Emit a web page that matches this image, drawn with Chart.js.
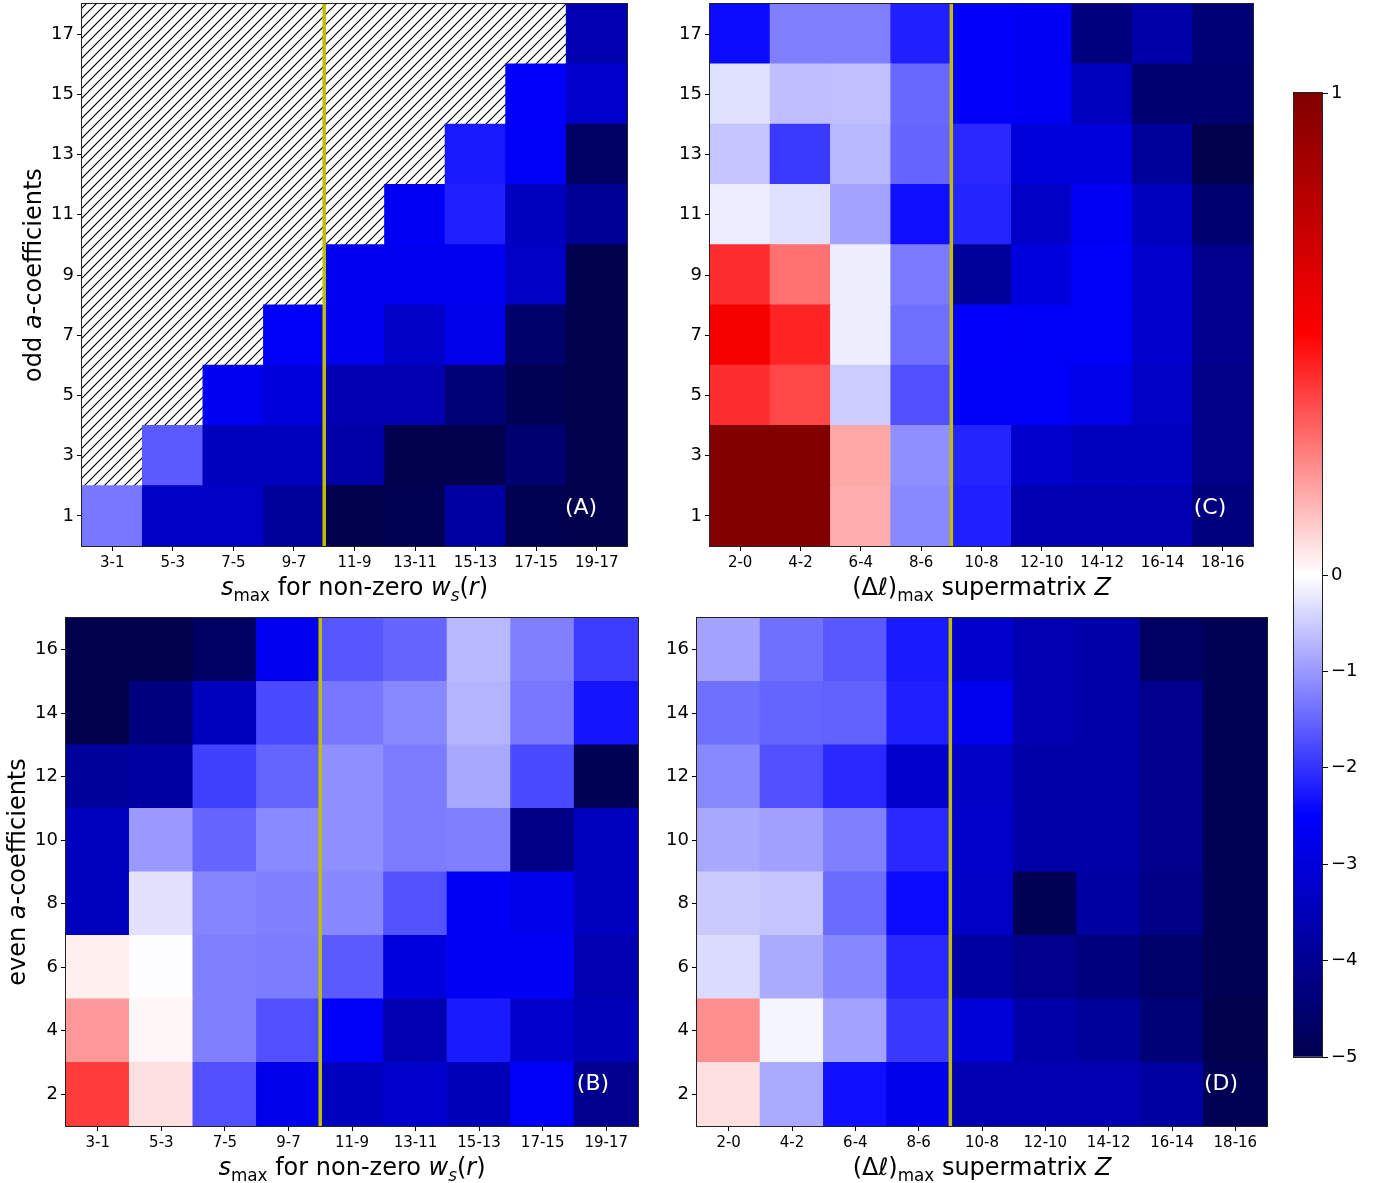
<!DOCTYPE html>
<html>
<head>
<meta charset="utf-8">
<script src="https://cdn.jsdelivr.net/npm/chart.js@4.4.0/dist/chart.umd.min.js"></script>
<style>
    body { margin: 0; background: #fff; }
    #wrap { position: relative; width: 1392px; height: 1183px; overflow: hidden; }
    #wrap canvas { position: absolute; left: 0; top: 0; }
</style>
</head>
<body>
<div id="wrap">
    <canvas id="chartA" width="1392" height="1183"></canvas>
    <canvas id="chartC" width="1392" height="1183"></canvas>
    <canvas id="chartB" width="1392" height="1183"></canvas>
    <canvas id="chartD" width="1392" height="1183"></canvas>
    <canvas id="chartBar" width="1392" height="1183"></canvas>
</div>
<script>
const sLabels = ['3-1', '5-3', '7-5', '9-7', '11-9', '13-11', '15-13', '17-15', '19-17'];
const lLabels = ['2-0', '4-2', '6-4', '8-6', '10-8', '12-10', '14-12', '16-14', '18-16'];
const oddRows = [1, 3, 5, 7, 9, 11, 13, 15, 17];
const evenRows = [2, 4, 6, 8, 10, 12, 14, 16];
const barTicks = [1, 0, -1, -2, -3, -4, -5];

// one array per row (bottom row first), one value per column; null = no coefficient
const valuesA = [
    [-1.33, -3.3, -3.3, -3.9, -5.0, -4.95, -3.8, -4.95, -5.0],
    [null, -1.62, -3.4, -3.4, -3.7, -5.0, -5.0, -4.5, -5.0],
    [null, null, -2.7, -3.0, -3.6, -3.6, -4.4, -4.9, -5.0],
    [null, null, null, -2.6, -2.7, -3.3, -2.8, -4.6, -5.0],
    [null, null, null, null, -2.7, -2.7, -2.7, -3.3, -5.0],
    [null, null, null, null, null, -2.65, -2.2, -3.4, -3.95],
    [null, null, null, null, null, null, -2.25, -2.6, -4.7],
    [null, null, null, null, null, null, null, -2.55, -3.2],
    [null, null, null, null, null, null, null, null, -3.6]
];
const valuesC = [
    [1.0, 1.0, 0.16, -1.17, -2.2, -3.6, -3.6, -3.6, -4.3],
    [1.0, 1.0, 0.17, -1.1, -2.15, -3.2, -3.4, -3.4, -4.15],
    [0.41, 0.36, -0.5, -1.72, -2.6, -2.6, -2.8, -3.3, -4.15],
    [0.53, 0.43, -0.17, -1.4, -2.55, -2.6, -2.6, -3.2, -4.1],
    [0.41, 0.28, -0.17, -1.3, -3.9, -2.95, -2.6, -3.2, -4.1],
    [-0.18, -0.3, -0.9, -2.35, -2.15, -3.3, -2.65, -3.4, -4.5],
    [-0.58, -1.93, -0.7, -1.5, -2.1, -3.0, -3.0, -3.9, -5.0],
    [-0.3, -0.63, -0.62, -1.48, -2.55, -2.65, -3.4, -4.5, -4.5],
    [-2.4, -1.25, -1.25, -2.2, -2.55, -2.65, -4.3, -3.7, -4.45]
];
const valuesB = [
    [0.38, 0.06, -1.72, -2.8, -3.4, -3.2, -3.5, -2.6, -4.1],
    [0.2, 0.015, -1.25, -1.72, -2.6, -3.6, -2.25, -3.2, -3.5],
    [0.03, -0.02, -1.25, -1.28, -1.62, -2.95, -2.65, -2.65, -3.6],
    [-3.4, -0.28, -1.2, -1.25, -1.18, -1.7, -2.65, -2.8, -3.4],
    [-3.4, -1.0, -1.5, -1.15, -1.1, -1.28, -1.25, -4.2, -3.4],
    [-3.9, -3.8, -1.87, -1.52, -1.1, -1.28, -0.85, -1.78, -4.9],
    [-5.0, -4.3, -3.4, -1.78, -1.33, -1.17, -0.75, -1.32, -2.3],
    [-5.0, -5.0, -4.7, -2.7, -1.65, -1.5, -0.7, -1.25, -1.9]
];
const valuesD = [
    [0.06, -0.83, -2.35, -2.8, -3.6, -3.6, -3.6, -3.8, -4.9],
    [0.22, -0.1, -0.9, -1.95, -3.05, -3.7, -3.9, -4.4, -5.0],
    [-0.35, -0.83, -1.18, -2.1, -3.8, -4.1, -4.3, -4.6, -4.9],
    [-0.52, -0.58, -1.45, -2.4, -3.3, -4.9, -3.8, -4.2, -4.9],
    [-0.85, -0.93, -1.25, -2.1, -3.25, -3.7, -3.7, -4.1, -4.9],
    [-1.17, -1.72, -2.1, -3.2, -3.3, -3.7, -3.7, -4.1, -4.9],
    [-1.4, -1.52, -1.55, -2.2, -2.75, -3.6, -3.7, -4.1, -4.9],
    [-0.9, -1.4, -1.63, -2.25, -3.2, -3.6, -3.7, -4.7, -4.9]
];

const W = 1392, H = 1183;
const FONT = '"DejaVu Sans", sans-serif';
Chart.defaults.font.family = FONT;
Chart.defaults.color = '#000';

// seismic colormap with two-slope norm: -5 .. 0 .. 1
const seismicStops = [[0, 0, 0.3], [0, 0, 1], [1, 1, 1], [1, 0, 0], [0.5, 0, 0]];
function norm(v) {
    const n = v <= 0 ? 0.5 * (v + 5) / 5 : 0.5 + 0.5 * v;
    return Math.min(1, Math.max(0, n));
}
function seismic(v) {
    const f = norm(v) * 4;
    const i = Math.min(3, Math.floor(f));
    const t = f - i;
    const c = seismicStops[i].map((a, k) => Math.round(255 * (a + (seismicStops[i + 1][k] - a) * t)));
    return `rgb(${c[0]},${c[1]},${c[2]})`;
}

function hatchPattern(ctx) {
    const p = document.createElement('canvas');
    p.width = 10; p.height = 10;
    const g = p.getContext('2d');
    g.fillStyle = '#fff';
    g.fillRect(0, 0, 10, 10);
    g.strokeStyle = '#000';
    g.lineWidth = 1.2;
    g.beginPath();
    g.moveTo(-5, 5); g.lineTo(5, -5);
    g.moveTo(0, 10); g.lineTo(10, 0);
    g.moveTo(5, 15); g.lineTo(15, 5);
    g.stroke();
    return ctx.createPattern(p, 'repeat');
}

// text with italic / subscript pieces: style n, i, s (sub), si (sub italic)
function drawRich(ctx, parts, x, y, size, rotate) {
    const fontFor = st => (st.includes('i') ? 'italic ' : '') + (st.includes('s') ? size * 0.7 : size) + 'px ' + FONT;
    ctx.save();
    ctx.translate(x, y);
    if (rotate) ctx.rotate(-Math.PI / 2);
    let total = 0;
    parts.forEach(p => { ctx.font = fontFor(p[1]); total += ctx.measureText(p[0]).width; });
    let cx = -total / 2;
    ctx.textAlign = 'left';
    ctx.textBaseline = 'alphabetic';
    ctx.fillStyle = '#000';
    parts.forEach(p => {
        ctx.font = fontFor(p[1]);
        ctx.fillText(p[0], cx, p[1].includes('s') ? size * 0.24 : 0);
        cx += ctx.measureText(p[0]).width;
    });
    ctx.restore();
}

const sTitle = [['s', 'i'], ['max', 's'], [' for non-zero ', 'n'], ['w', 'i'], ['s', 'si'], ['(', 'n'], ['r', 'i'], [')', 'n']];
const lTitle = [['(\u0394', 'n'], ['\u2113', 'i'], [')', 'n'], ['max', 's'], [' supermatrix ', 'n'], ['Z', 'i']];

function makePanel(id, p) {
    const yAxisW = 50, xAxisH = 30;
    const datasets = p.rows.map((r, i) => ({
        data: p.values[i].map(v => v === null ? null : [r - 1, r + 1]),
        backgroundColor: p.values[i].map(v => v === null ? 'rgba(0,0,0,0)' : seismic(v)),
        borderWidth: 0,
        inflateAmount: 0.6,
        barPercentage: 1,
        categoryPercentage: 1
    }));

    const panelPlugin = {
        id: 'panel' + id,
        beforeDatasetsDraw(chart) {
            const a = chart.chartArea, ctx = chart.ctx;
            if (p.hatch) {
                ctx.save();
                ctx.fillStyle = hatchPattern(ctx);
                ctx.fillRect(a.left, a.top, a.width, a.height);
                ctx.restore();
            }
        },
        afterDatasetsDraw(chart) {
            const a = chart.chartArea, ctx = chart.ctx, x = chart.scales.x;
            const xm = (x.getPixelForValue(3) + x.getPixelForValue(4)) / 2;
            ctx.save();
            ctx.strokeStyle = '#bfbf00';
            ctx.lineWidth = 3.5;
            ctx.beginPath();
            ctx.moveTo(xm, a.top);
            ctx.lineTo(xm, a.bottom);
            ctx.stroke();
            ctx.restore();
        },
        afterDraw(chart) {
            const a = chart.chartArea, ctx = chart.ctx;
            ctx.save();
            ctx.strokeStyle = '#222';
            ctx.lineWidth = 1;
            ctx.strokeRect(a.left - 0.5, a.top - 0.5, a.width + 1, a.height + 1);
            ctx.fillStyle = '#fff';
            ctx.font = '22px ' + FONT;
            ctx.textAlign = 'center';
            ctx.textBaseline = 'middle';
            ctx.fillText(p.tag, a.right - p.tagDx, a.bottom - p.tagDy);
            ctx.restore();
            drawRich(ctx, p.xTitle, (a.left + a.right) / 2, a.bottom + 49, 24, false);
            if (p.yTitle) drawRich(ctx, p.yTitle, p.yTitleX, (a.top + a.bottom) / 2, 24, true);
        }
    };

    return new Chart(document.getElementById(id), {
        type: 'bar',
        data: { labels: p.labels, datasets: datasets },
        options: {
            responsive: false,
            animation: false,
            layout: {
                padding: {
                    left: p.box[0] - yAxisW,
                    top: p.box[1],
                    right: W - p.box[2],
                    bottom: H - p.box[3] - xAxisH
                }
            },
            plugins: { legend: { display: false }, tooltip: { enabled: false } },
            scales: {
                x: {
                    type: 'category',
                    stacked: true,
                    offset: true,
                    grid: { offset: false, drawOnChartArea: false, drawTicks: true, tickLength: 5, tickColor: '#000' },
                    border: { display: false },
                    ticks: { color: '#000', font: { size: 15 }, padding: 3, maxRotation: 0, autoSkip: false },
                    afterFit(s) { s.height = xAxisH; s.paddingLeft = 0; s.paddingRight = 0; }
                },
                y: {
                    type: 'linear',
                    stacked: false,
                    min: p.rows[0] - 1,
                    max: p.rows[p.rows.length - 1] + 1,
                    afterBuildTicks(s) { s.ticks = p.rows.map(v => ({ value: v })); },
                    grid: { drawOnChartArea: false, drawTicks: true, tickLength: 5, tickColor: '#000' },
                    border: { display: false },
                    ticks: { color: '#000', font: { size: 18 }, padding: 3 },
                    afterFit(s) { s.width = yAxisW; s.paddingTop = 0; s.paddingBottom = 0; }
                }
            }
        },
        plugins: [panelPlugin]
    });
}

makePanel('chartA', {
    box: [82, 4, 627, 546], labels: sLabels, rows: oddRows, values: valuesA, hatch: true,
    tag: '(A)', tagDx: 46, tagDy: 38, xTitle: sTitle,
    yTitle: [['odd ', 'n'], ['a', 'i'], ['-coefficients', 'n']], yTitleX: 41
});
makePanel('chartC', {
    box: [710, 4, 1253, 546], labels: lLabels, rows: oddRows, values: valuesC,
    tag: '(C)', tagDx: 43, tagDy: 38, xTitle: lTitle
});
makePanel('chartB', {
    box: [66, 618, 638, 1126], labels: sLabels, rows: evenRows, values: valuesB,
    tag: '(B)', tagDx: 45, tagDy: 42, xTitle: sTitle,
    yTitle: [['even ', 'n'], ['a', 'i'], ['-coefficients', 'n']], yTitleX: 25
});
makePanel('chartD', {
    box: [697, 618, 1267, 1126], labels: lLabels, rows: evenRows, values: valuesD,
    tag: '(D)', tagDx: 46, tagDy: 42, xTitle: lTitle
});

// colour bar
const cbBox = [1294, 93, 1322, 1057];
new Chart(document.getElementById('chartBar'), {
    type: 'bar',
    data: {
        labels: ['scale'],
        datasets: [{
            data: [[norm(-5), norm(1)]],
            borderWidth: 0,
            barPercentage: 1,
            categoryPercentage: 1,
            backgroundColor(c) {
                const a = c.chart.chartArea;
                if (!a) return '#00f';
                const g = c.chart.ctx.createLinearGradient(0, a.bottom, 0, a.top);
                seismicStops.forEach((s, i) => g.addColorStop(i / 4, `rgb(${s.map(x => Math.round(x * 255)).join(',')})`));
                return g;
            }
        }]
    },
    options: {
        responsive: false,
        animation: false,
        layout: { padding: { left: cbBox[0], top: cbBox[1], right: W - cbBox[2] - 60, bottom: H - cbBox[3] } },
        plugins: { legend: { display: false }, tooltip: { enabled: false } },
        scales: {
            x: { display: false, offset: true },
            y: {
                position: 'right',
                min: 0,
                max: 1,
                afterBuildTicks(s) { s.ticks = barTicks.map(v => ({ value: norm(v) })); },
                grid: { drawOnChartArea: false, drawTicks: true, tickLength: 6, tickColor: '#000' },
                border: { display: false },
                ticks: {
                    color: '#000', font: { size: 18 }, padding: 3,
                    callback: (val, i) => barTicks[i] < 0 ? '\u2212' + (-barTicks[i]) : String(barTicks[i])
                },
                afterFit(s) { s.width = 60; s.paddingTop = 0; s.paddingBottom = 0; }
            }
        }
    },
    plugins: [{
        id: 'cbFrame',
        afterDraw(chart) {
            const a = chart.chartArea, ctx = chart.ctx;
            ctx.save();
            ctx.strokeStyle = '#222';
            ctx.lineWidth = 1;
            ctx.strokeRect(a.left - 0.5, a.top - 0.5, a.width + 1, a.height + 1);
            ctx.restore();
        }
    }]
});
</script>
</body>
</html>
